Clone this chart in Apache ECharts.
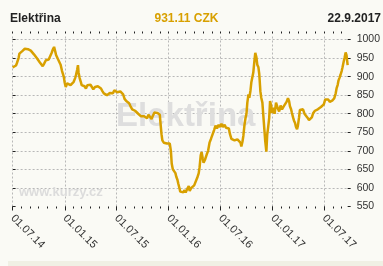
<!DOCTYPE html>
<html>
<head>
<meta charset="utf-8">
<script src="https://cdn.jsdelivr.net/npm/echarts@6/dist/echarts.min.js"></script>
<style>
html,body{margin:0;padding:0;background:#fafaf5;}
#c{width:383px;height:266px;}
</style>
</head>
<body>
<div id="c"></div>
<script>
const titleText = 'Elektřina';
const priceText = '931.11 CZK';
const dateText = '22.9.2017';
const watermarkText = 'Elektřina';
const siteText = 'www.kurzy.cz';

const dates = [
'2014-07-01','2014-07-08','2014-07-13','2014-07-16','2014-07-22','2014-07-25','2014-07-30','2014-08-03','2014-08-08','2014-08-13',
'2014-08-19','2014-08-24','2014-08-29','2014-09-03','2014-09-09','2014-09-14','2014-09-19','2014-09-24','2014-09-30','2014-10-05',
'2014-10-10','2014-10-15','2014-10-20','2014-10-26','2014-10-31','2014-11-05','2014-11-10','2014-11-16','2014-11-19','2014-11-24',
'2014-11-28','2014-12-01','2014-12-07','2014-12-12','2014-12-17','2014-12-22','2014-12-28','2014-12-31','2015-01-04','2015-01-09',
'2015-01-12','2015-01-16','2015-01-21','2015-01-26','2015-02-01','2015-02-06','2015-02-09','2015-02-13','2015-02-16','2015-02-18',
'2015-02-22','2015-02-26','2015-03-01','2015-03-06','2015-03-11','2015-03-16','2015-03-21','2015-03-27','2015-04-01','2015-04-06',
'2015-04-11','2015-04-17','2015-04-22','2015-04-27','2015-05-02','2015-05-08','2015-05-13','2015-05-18','2015-05-23','2015-05-29',
'2015-06-03','2015-06-08','2015-06-13','2015-06-19','2015-06-24','2015-06-29','2015-07-04','2015-07-10','2015-07-15','2015-07-20',
'2015-07-25','2015-07-30','2015-08-05','2015-08-10','2015-08-15','2015-08-20','2015-08-26','2015-08-31','2015-09-05','2015-09-10',
'2015-09-16','2015-09-21','2015-09-26','2015-10-01','2015-10-07','2015-10-12','2015-10-17','2015-10-22','2015-10-28','2015-11-02',
'2015-11-07','2015-11-12','2015-11-18','2015-11-23','2015-11-28','2015-12-01','2015-12-04','2015-12-07','2015-12-10','2015-12-15',
'2015-12-21','2015-12-26','2015-12-31','2016-01-05','2016-01-09','2016-01-12','2016-01-16','2016-01-19','2016-01-21','2016-01-25',
'2016-01-28','2016-02-01','2016-02-04','2016-02-08','2016-02-11','2016-02-15','2016-02-18','2016-02-22','2016-02-25','2016-03-01',
'2016-03-07','2016-03-12','2016-03-15','2016-03-21','2016-03-26','2016-03-31','2016-04-05','2016-04-11','2016-04-16','2016-04-19',
'2016-04-23','2016-04-26','2016-04-30','2016-05-03','2016-05-08','2016-05-14','2016-05-19','2016-05-24','2016-05-29','2016-06-04',
'2016-06-09','2016-06-14','2016-06-19','2016-06-25','2016-06-30','2016-07-05','2016-07-10','2016-07-16','2016-07-21','2016-07-26',
'2016-07-31','2016-08-04','2016-08-09','2016-08-14','2016-08-20','2016-08-25','2016-08-30','2016-09-04','2016-09-10','2016-09-13',
'2016-09-17','2016-09-20','2016-09-24','2016-09-28','2016-10-01','2016-10-04','2016-10-08','2016-10-11','2016-10-15','2016-10-18',
'2016-10-22','2016-10-25','2016-10-29','2016-11-01','2016-11-05','2016-11-08','2016-11-12','2016-11-15','2016-11-19','2016-11-22',
'2016-11-26','2016-11-29','2016-12-03','2016-12-06','2016-12-10','2016-12-13','2016-12-16','2016-12-20','2016-12-23','2016-12-27',
'2016-12-30','2017-01-03','2017-01-08','2017-01-13','2017-01-19','2017-01-24','2017-01-29','2017-02-03','2017-02-09','2017-02-14',
'2017-02-19','2017-02-24','2017-02-28','2017-03-03','2017-03-07','2017-03-10','2017-03-14','2017-03-17','2017-03-21','2017-03-24',
'2017-03-28','2017-03-31','2017-04-04','2017-04-07','2017-04-12','2017-04-18','2017-04-23','2017-04-28','2017-05-03','2017-05-09',
'2017-05-14','2017-05-19','2017-05-24','2017-05-30','2017-06-04','2017-06-09','2017-06-14','2017-06-20','2017-06-25','2017-06-30',
'2017-07-05','2017-07-11','2017-07-16','2017-07-21','2017-07-26','2017-07-31','2017-08-06','2017-08-11','2017-08-14','2017-08-18',
'2017-08-21','2017-08-25','2017-08-28','2017-09-01','2017-09-04','2017-09-08','2017-09-11','2017-09-15','2017-09-18','2017-09-22'
];

const values = [
925,926,930,936,950,962,958,968,972,975,
978,974,976,970,968,960,955,950,945,938,
938,928,935,944,942,946,950,965,972,980,
968,958,948,940,932,915,900,885,872,882,
878,882,877,882,886,896,904,918,931,912,
896,886,877,872,874,868,877,882,878,872,
866,872,872,874,870,868,861,855,860,850,
854,856,852,855,863,860,858,862,860,858,
852,840,834,832,828,820,812,808,808,803,
800,798,793,790,793,790,788,797,794,786,
795,803,807,802,806,797,770,745,728,722,
724,720,716,720,700,665,650,645,650,640,
630,622,612,600,590,585,592,588,594,588,
598,605,592,600,598,607,612,628,640,656,
688,697,680,668,676,690,700,722,732,745,
756,768,760,770,764,773,764,770,762,766,
760,745,732,736,728,726,731,728,722,712,
725,740,770,790,800,830,852,843,862,884,
880,911,943,964,952,932,925,907,860,843,
830,798,757,726,698,744,762,789,834,821,
802,816,800,830,815,806,822,812,820,826,
832,842,834,820,812,802,790,782,775,765,
758,768,790,810,815,812,800,795,790,783,
780,790,802,808,806,812,815,818,822,825,
838,842,838,832,830,836,842,855,868,878,
890,898,905,915,925,940,950,965,958,931.11
];

const monthTicks = [
'2014-07-01','2014-08-01','2014-09-01','2014-10-01','2014-11-01','2014-12-01',
'2015-01-01','2015-02-01','2015-03-01','2015-04-01','2015-05-01','2015-06-01',
'2015-07-01','2015-08-01','2015-09-01','2015-10-01','2015-11-01','2015-12-01',
'2016-01-01','2016-02-01','2016-03-01','2016-04-01','2016-05-01','2016-06-01',
'2016-07-01','2016-08-01','2016-09-01','2016-10-01','2016-11-01','2016-12-01',
'2017-01-01','2017-02-01','2017-03-01','2017-04-01','2017-05-01','2017-06-01',
'2017-07-01','2017-08-01','2017-09-01'
];
const halfYearTicks = ['2014-07-01','2015-01-01','2015-07-01','2016-01-01','2016-07-01','2017-01-01','2017-07-01'];
const halfYearLabels = ['01.07.14','01.01.15','01.07.15','01.01.16','01.07.16','01.01.17','01.07.17'];

const yMin = 550, yMax = 1000, yStep = 50;

const FONT = '"Liberation Sans", Arial, sans-serif';
const GOLD = '#d8a000';
const GRIDC = '#b8b8b8';
const TICKC = '#222';

const ts = s => Date.parse(s);
const xMin = ts(dates[0]);
const xMax = ts(dates[dates.length - 1]);
const monthVals = monthTicks.map(ts);
const halfVals = halfYearTicks.map(ts);
const labelMap = {};
halfVals.forEach((v, i) => { labelMap[v] = halfYearLabels[i]; });
const seriesData = dates.map((d, i) => [ts(d), values[i]]);

const baseX = {
  type: 'value', min: xMin, max: xMax,
  axisLine: { show: false, onZero: false },
  splitLine: { show: false },
  axisLabel: { show: false },
  axisTick: { show: false }
};

const chart = echarts.init(document.getElementById('c'), null, { renderer: 'canvas' });
chart.setOption({
  animation: false,
  backgroundColor: '#fafaf5',
  textStyle: { fontFamily: FONT },
  grid: { left: 12.6, right: 33, top: 39.5, bottom: 59.5, containLabel: false },
  xAxis: [
    Object.assign({}, baseX, { position: 'bottom',
      axisTick: { show: true, customValues: halfVals, inside: true, length: 171,
        lineStyle: { color: GRIDC, width: 1, type: [2, 2] } } }),
    Object.assign({}, baseX, { position: 'bottom',
      axisTick: { show: true, customValues: monthVals, length: 2, lineStyle: { color: TICKC } } }),
    Object.assign({}, baseX, { position: 'bottom',
      axisTick: { show: true, customValues: halfVals, length: 4, lineStyle: { color: TICKC } },
      axisLabel: { show: true, customValues: halfVals, rotate: -45, margin: 10,
        fontSize: 11, color: '#333', fontFamily: FONT,
        formatter: v => labelMap[v] || '' } }),
    Object.assign({}, baseX, { position: 'top', offset: 6,
      axisTick: { show: true, customValues: monthVals, length: 2, lineStyle: { color: TICKC } } })
  ],
  yAxis: [
    { type: 'value', position: 'right', min: yMin, max: yMax, interval: yStep,
      axisLine: { show: false },
      axisTick: { show: true, length: 3, lineStyle: { color: TICKC } },
      axisLabel: { margin: 9, fontSize: 10.5, color: '#333', fontFamily: FONT, formatter: v => String(v) },
      splitLine: { show: true, showMinLine: false, lineStyle: { color: GRIDC, width: 1, type: [2, 2] } } },
    { type: 'value', position: 'left', min: yMin, max: yMax, interval: yStep,
      axisLine: { show: false },
      axisTick: { show: true, inside: true, length: 3, lineStyle: { color: TICKC } },
      axisLabel: { show: false },
      splitLine: { show: false } }
  ],
  graphic: [
    { type: 'rect', z: 0, shape: { x: 8, y: 261, width: 375, height: 5 }, style: { fill: '#f0f0e4' } },
    { type: 'text', z: 1, silent: true, style: { x: 116, y: 116.5, text: watermarkText, align: 'left', verticalAlign: 'middle',
      font: 'bold 33px ' + FONT, fill: '#dedede' } },
    { type: 'text', z: 1, silent: true, style: { x: 19, y: 192.5, text: siteText, align: 'left', verticalAlign: 'middle',
      font: 'bold 13px ' + FONT, fill: '#dcdcdc' } },
    { type: 'text', z: 10, style: { x: 10, y: 18.5, text: titleText, align: 'left', verticalAlign: 'middle',
      font: 'bold 12px ' + FONT, fill: '#222' } },
    { type: 'text', z: 10, style: { x: 186.5, y: 18.5, text: priceText, align: 'center', verticalAlign: 'middle',
      font: 'bold 12px ' + FONT, fill: GOLD } },
    { type: 'text', z: 10, style: { x: 381, y: 18.5, text: dateText, align: 'right', verticalAlign: 'middle',
      font: 'bold 12px ' + FONT, fill: '#222' } }
  ],
  series: [{
    type: 'line', xAxisIndex: 0, yAxisIndex: 0, z: 3,
    data: seriesData, showSymbol: false, symbol: 'none',
    lineStyle: { color: GOLD, width: 2.5 },
    clip: false
  }]
});
</script>
</body>
</html>
